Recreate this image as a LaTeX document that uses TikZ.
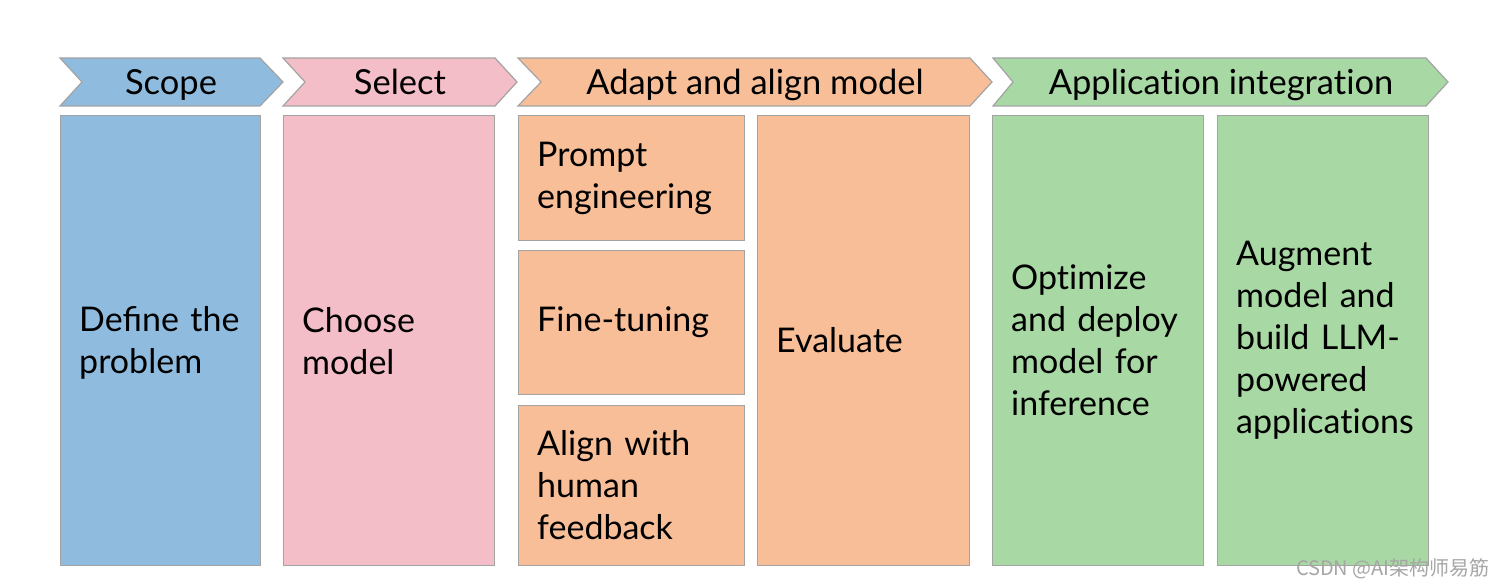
\documentclass[tikz,border=0pt]{standalone}
\usepackage{fontspec}
\setmainfont{Lato}[Ligatures=NoCommon]
\newfontfamily\cjkfont{Noto Sans CJK SC}
\usepackage{tikz}
\usetikzlibrary{positioning}

\definecolor{scopeblue}{HTML}{8FBCDE}
\definecolor{selectpink}{HTML}{F3BEC7}
\definecolor{adaptorange}{HTML}{F8BE98}
\definecolor{appgreen}{HTML}{A8D8A3}
\definecolor{edgegray}{HTML}{A3A3A3}

\begin{document}
\begin{tikzpicture}[x=1pt,y=-1pt,
  stage/.style={draw=edgegray,line width=1.2pt,line join=miter},
  stagelabel/.style={anchor=base,inner sep=0pt,font=\fontsize{34.5}{40}\selectfont},
  box/.style={draw=edgegray,line width=1.2pt,anchor=north west,inner sep=0pt},
  boxtext/.style={inner sep=0pt,text width=190pt,align=left,
    font=\fontsize{34}{42}\selectfont}]
\useasboundingbox (0,0) rectangle (1506,588);

% stage chevrons
\draw[stage,fill=scopeblue]   (60,58) -- (260,58) -- (283,82) -- (260,106) -- (60,106) -- (82,82) -- cycle;
\draw[stage,fill=selectpink]  (283,58) -- (495,58) -- (517,82) -- (495,106) -- (283,106) -- (305,82) -- cycle;
\draw[stage,fill=adaptorange] (518,58) -- (970,58) -- (992,82) -- (970,106) -- (518,106) -- (541,82) -- cycle;
\draw[stage,fill=appgreen]    (993,58) -- (1426,58) -- (1448,82) -- (1426,106) -- (993,106) -- (1013,82) -- cycle;

\node[stagelabel] (scope)  at (171,95)  {Scope};
\node[stagelabel] (select) at (400,95)  {Select};
\node[stagelabel] (adapt)  at (755,95)  {Adapt and align model};
\node[stagelabel] (app)    at (1221,95) {Application integration};

% boxes
\node[box,fill=scopeblue,minimum width=200pt,minimum height=450pt]   (define)   at (60,115)  {};
\node[box,fill=selectpink,minimum width=211pt,minimum height=450pt]  (choose)   at (283,115) {};
\node[box,fill=adaptorange,minimum width=226pt,minimum height=125pt] (prompt)   at (518,115) {};
\node[box,fill=adaptorange,minimum width=226pt,minimum height=144pt] (finetune) at (518,250) {};
\node[box,fill=adaptorange,minimum width=226pt,minimum height=160pt] (alignhf)  at (518,405) {};
\node[box,fill=adaptorange,minimum width=212pt,minimum height=450pt] (evaluate) at (757,115) {};
\node[box,fill=appgreen,minimum width=211pt,minimum height=450pt]    (optimize) at (992,115) {};
\node[box,fill=appgreen,minimum width=211pt,minimum height=450pt]    (augment)  at (1217,115) {};

\node[boxtext,right=19pt of define.west,yshift=-2pt] {Deﬁne the\\problem};
\node[boxtext,right=19pt of choose.west]   {Choose\\model};
\node[boxtext,right=19pt of prompt.west]   {Prompt\\engineering};
\node[boxtext,right=19pt of finetune.west] {Fine-tuning};
\node[boxtext,right=19pt of alignhf.west]  {Align with\\human\\feedback};
\node[boxtext,right=19pt of evaluate.west] {Evaluate};
\node[boxtext,right=19pt of optimize.west] {Optimize\\and deploy\\model for\\inference};
\node[boxtext,right=19pt of augment.west]  {Augment\\model and\\build LLM-\\powered\\applications};

% watermark
\node[anchor=base east,inner sep=0pt,text=gray!70,font=\cjkfont\fontsize{20}{24}\selectfont]
  (mark) at (1490,575) {CSDN @AI架构师易筋};
\end{tikzpicture}
\end{document}
